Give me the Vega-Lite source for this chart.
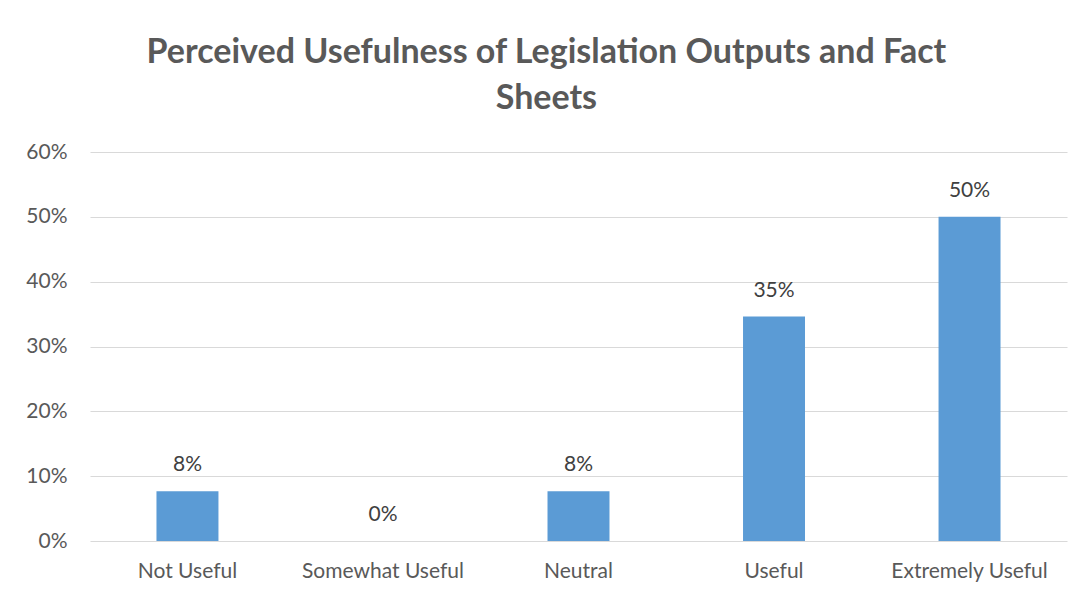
{
  "$schema": "https://vega.github.io/schema/vega-lite/v6.json",
  "autosize": "none",
  "width": 977,
  "height": 389,
  "padding": {"left": 90, "top": 152, "right": 15, "bottom": 56},
  "background": "white",
  "title": {
    "text": ["Perceived Usefulness of Legislation Outputs and Fact", "Sheets"],
    "font": "Lato",
    "fontSize": 34,
    "fontWeight": "bold",
    "color": "#595959",
    "anchor": "middle",
    "frame": "bounds",
    "lineHeight": 46,
    "offset": 25
  },
  "config": {
    "view": {"stroke": null},
    "font": "Lato"
  },
  "data": {
    "values": [
      {"category": "Not Useful", "value": 0.0769},
      {"category": "Somewhat Useful", "value": 0},
      {"category": "Neutral", "value": 0.0769},
      {"category": "Useful", "value": 0.3462},
      {"category": "Extremely Useful", "value": 0.5}
    ]
  },
  "encoding": {
    "x": {
      "field": "category",
      "type": "nominal",
      "sort": null,
      "scale": {"paddingInner": 0.683, "paddingOuter": 0.34},
      "axis": {
        "title": null,
        "labelAngle": 0,
        "domain": false,
        "ticks": false,
        "labelFont": "Lato",
        "labelFontSize": 21,
        "labelColor": "#595959",
        "labelPadding": 19
      }
    },
    "y": {
      "field": "value",
      "type": "quantitative",
      "scale": {"domain": [0, 0.6], "nice": false},
      "axis": {
        "title": null,
        "format": ".0%",
        "values": [0, 0.1, 0.2, 0.3, 0.4, 0.5, 0.6],
        "domain": false,
        "ticks": false,
        "gridColor": "#d9d9d9",
        "gridWidth": 1,
        "labelFont": "Lato",
        "labelFontSize": 21,
        "labelColor": "#595959",
        "labelPadding": 23
      }
    }
  },
  "layer": [
    {"mark": {"type": "bar", "color": "#5B9BD5"}},
    {
      "mark": {"type": "text", "dy": -16, "font": "Lato", "fontSize": 21, "color": "#404040", "baseline": "bottom"},
      "encoding": {"text": {"field": "value", "type": "quantitative", "format": ".0%"}}
    }
  ]
}
